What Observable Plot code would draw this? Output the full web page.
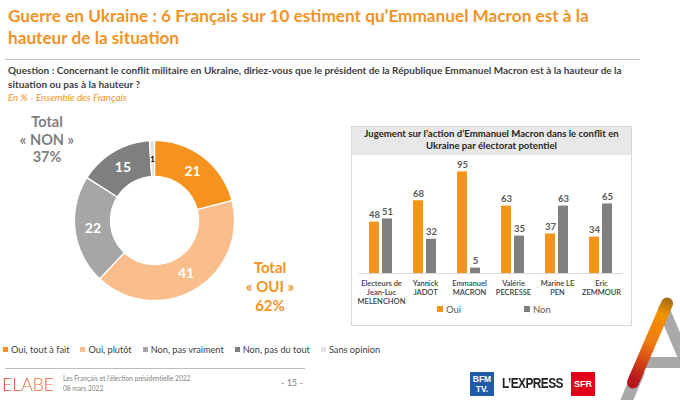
<!DOCTYPE html>
<html><head><meta charset="utf-8">
<script src="https://cdn.jsdelivr.net/npm/d3@7"></script>
<script src="https://cdn.jsdelivr.net/npm/@observablehq/plot@0.6"></script>
<style>
body{margin:0;width:680px;height:400px;position:relative;overflow:hidden;background:#fff;font-family:Lato,"Open Sans",sans-serif;}
.a{position:absolute;white-space:nowrap;}
.sq{display:inline-block;width:5px;height:5px;margin-right:3px;vertical-align:1px;}
.leg{display:flex;gap:11px;}
</style></head><body>
<script>
// ---- data ----
const donutLabels = ["Oui, tout à fait", "Oui, plutôt", "Non, pas vraiment", "Non, pas du tout", "Sans opinion"];
const donutValues = [21, 41, 22, 15, 1];
const donutColors = ["#F5931E", "#F9BE8C", "#A6A6A6", "#7F7F7F", "#E2E2E2"];
const electorats = ["Electeurs de\nJean-Luc\nMELENCHON", "Yannick\nJADOT", "Emmanuel\nMACRON", "Valérie\nPECRESSE", "Marine LE\nPEN", "Eric\nZEMMOUR"];
const ouiValues = [48, 68, 95, 63, 37, 34];
const nonValues = [51, 32, 5, 35, 63, 65];
const seriesNames = ["Oui", "Non"];
const seriesColors = ["#F7941D", "#808080"];

function el(html, style, cls) {
  const d = document.createElement("div");
  d.className = "a" + (cls ? " " + cls : "");
  d.innerHTML = html;
  d.setAttribute("style", style);
  document.body.appendChild(d);
  return d;
}

// ---- texts ----
el("Guerre en Ukraine : 6 Français sur 10 estiment qu’Emmanuel Macron est à la<br>hauteur de la situation",
   "left:8px;top:5px;font-size:17.2px;font-weight:700;color:#F29325;line-height:22px;");
el("", "left:5px;top:59px;width:635px;height:1px;background:#BDBDBD;");
el("Question : Concernant le conflit militaire en Ukraine, diriez-vous que le président de la République Emmanuel Macron est à la hauteur de la<br>situation ou pas à la hauteur ?",
   "left:8px;top:63px;font-size:10px;font-weight:700;color:#404040;line-height:14px;");
el("En % - Ensemble des Français", "left:8px;top:91px;font-size:9.8px;font-style:italic;color:#F29325;");

// ---- donut ----
const pieArcs = d3.pie().sort(null)(donutValues);
const R1 = 80, R0 = 44;
const ring = [];
pieArcs.forEach((a, i) => {
  const n = 90;
  for (let j = 0; j <= n; j++) {
    const t = a.startAngle + (a.endAngle - a.startAngle) * j / n;
    ring.push({k: donutLabels[i], x: R1 * Math.sin(t), y: R1 * Math.cos(t)});
  }
  for (let j = n; j >= 0; j--) {
    const t = a.startAngle + (a.endAngle - a.startAngle) * j / n;
    ring.push({k: donutLabels[i], x: R0 * Math.sin(t), y: R0 * Math.cos(t)});
  }
});
const sliceLabels = pieArcs.map((a, i) => {
  const m = (a.startAngle + a.endAngle) / 2, r = (R0 + R1) / 2;
  return {v: donutValues[i], x: r * Math.sin(m), y: r * Math.cos(m)};
});
const donut = Plot.plot({
  width: 180, height: 180, margin: 0,
  style: {background: "transparent", fontFamily: "Lato"},
  x: {domain: [-90, 90], axis: null},
  y: {domain: [-90, 90], axis: null},
  color: {domain: donutLabels, range: donutColors},
  marks: [
    Plot.line(ring, {x: "x", y: "y", z: "k", fill: "k", stroke: "white", strokeWidth: 1.3, curve: "linear-closed"}),
    Plot.text(sliceLabels.filter(d => d.v >= 5), {x: "x", y: "y", text: "v", fill: "white", fontSize: 14, fontWeight: "bold"}),
    Plot.text(sliceLabels.filter(d => d.v < 5), {x: "x", y: "y", text: "v", fill: "black", fontSize: 8, fontWeight: "bold", dy: 1})
  ]
});
const dw = el("", "left:64px;top:130px;");
dw.appendChild(donut);

el("Total<br>« NON »<br>37%", "left:7px;top:113px;width:80px;text-align:center;font-size:14.5px;font-weight:700;color:#7F7F7F;line-height:17.5px;");
el("Total<br>« OUI »<br>62%", "left:230px;top:258px;width:80px;text-align:center;font-size:15px;font-weight:700;color:#F29325;line-height:19px;");

// ---- bar panel ----
el("", "left:351px;top:126px;width:279px;height:198px;border:1px solid #D9D9D9;");
el("Jugement sur l’action d’Emmanuel Macron dans le conflit en<br>Ukraine par électorat potentiel",
   "left:352px;top:127px;width:279px;height:28px;background:#E8E8E8;text-align:center;font-size:9.6px;font-weight:700;color:#262626;line-height:12px;padding-top:1px;box-sizing:border-box;");

const barData = electorats.flatMap((c, i) => [
  {cat: c, serie: "Oui", v: ouiValues[i]},
  {cat: c, serie: "Non", v: nonValues[i]}
]);
const bars = Plot.plot({
  width: 280, height: 155, marginTop: 11, marginBottom: 37, marginLeft: 6, marginRight: 6,
  style: {background: "transparent", fontFamily: "Lato"},
  fx: {domain: electorats, padding: 0, axis: null},
  x: {domain: seriesNames, paddingInner: 0.22, paddingOuter: 0.77, axis: null},
  y: {domain: [0, 100], axis: null},
  color: {domain: seriesNames, range: seriesColors},
  marks: [
    Plot.barY(barData, {fx: "cat", x: "serie", y: "v", fill: "serie"}),
    Plot.ruleY([0], {stroke: "#D9D9D9"}),
    Plot.text(barData, {fx: "cat", x: "serie", y: "v", text: "v", lineAnchor: "bottom", dy: -4, fill: "#595959", fontSize: 9.5, fontWeight: "bold"}),
    Plot.text(electorats, {fx: d => d, text: d => d, frameAnchor: "bottom", lineAnchor: "top", dy: 6, lineHeight: 1.2, fill: "#404040", fontSize: 7.5, fontWeight: 600})
  ]
});
const bw = el("", "left:351px;top:155px;");
bw.appendChild(bars);

el('<span class="sq" style="background:#F7941D;width:6px;height:6px"></span>Oui', "left:437px;top:304px;font-size:9.5px;color:#595959;");
el('<span class="sq" style="background:#808080;width:6px;height:6px"></span>Non', "left:524px;top:304px;font-size:9.5px;color:#595959;");

// ---- bottom legend ----
el(donutLabels.map((l, i) => `<span><span class="sq" style="background:${donutColors[i]}"></span>${l}</span>`).join(""),
   "left:3px;top:344px;font-size:9.2px;color:#404040;", "leg");

// ---- footer ----
el("", "left:5px;top:368px;width:300px;height:1px;background:#BDBDBD;");
el("ELABE", "left:2px;top:373px;font-size:18px;font-weight:300;letter-spacing:-0.3px;background:linear-gradient(90deg,#E03A2A,#EE6A2C 60%,#E5462A);-webkit-background-clip:text;background-clip:text;color:transparent;line-height:22px;");
el("Les Français et l’élection présidentielle 2022<br>08 mars 2022", "left:63px;top:373px;font-size:6.6px;color:#7F7F7F;line-height:10px;");
el("- 15 -", "left:281px;top:377px;font-size:9px;color:#7F7F7F;");

// logos
el('<div style="line-height:10px;padding-top:2px">BFM<br>TV.</div>', "left:470px;top:372px;width:24px;height:24px;background:#1F5BA9;color:#fff;font-family:'Liberation Sans';font-weight:700;font-size:8.5px;text-align:center;");
el("L’EXPRESS", "left:502px;top:375px;font-family:'Liberation Sans';font-weight:700;font-size:14.5px;color:#222;letter-spacing:-0.7px;transform:scaleX(0.82);transform-origin:left center;");
el("SFR", "left:571px;top:372px;width:24px;height:24px;background:#E2001A;color:#fff;font-family:'Liberation Sans';font-weight:700;font-size:9px;text-align:center;line-height:24px;");

// decorative A
el("", "left:677px;top:300px;width:12px;height:110px;border-radius:6px;background:#A9A9A9;transform:rotate(-23deg);");
el("", "left:645px;top:357px;width:40px;height:11px;background:#A9A9A9;");
el("", "left:623px;top:365px;width:12px;height:60px;border-radius:6px;background:#A9A9A9;transform:rotate(23.3deg);");
el("", "left:644px;top:294px;width:12px;height:98px;border-radius:6px;background:linear-gradient(180deg,#9C6A18 0%,#F39200 18%,#EE7A12 50%,#B8161C 90%);transform:rotate(23.3deg);");
</script>
</body></html>
